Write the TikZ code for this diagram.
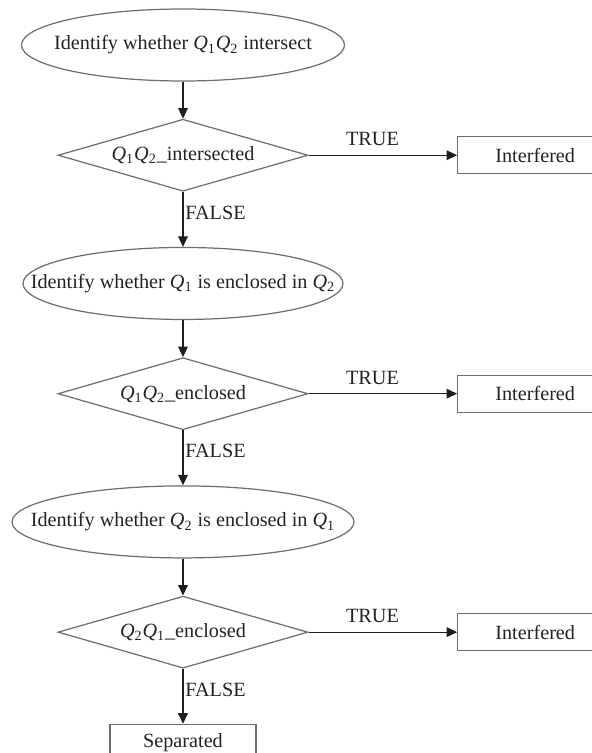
\documentclass[tikz,border=0pt]{standalone}
\usepackage{fontspec}
\setmainfont{Liberation Serif}
\usepackage{tikz}
\usetikzlibrary{positioning,shapes.geometric,arrows.meta}
\definecolor{FlowLine}{HTML}{6E6E6E}
\definecolor{FlowArrow}{HTML}{1E1E1E}
\definecolor{FlowText}{HTML}{222222}
\newcommand{\Qsub}[1]{\textit{Q}\textsubscript{#1}}

\begin{document}
\begin{tikzpicture}[node distance=0.74cm, every node/.style={font=\fontsize{11.5}{14}\selectfont, text=FlowText, align=center},
  checkbox/.style={draw=FlowLine, line width=0.7pt, ellipse, inner xsep=-30pt, inner ysep=0pt, minimum height=1.44cm},
  decidebox/.style={draw=FlowLine, line width=0.7pt, diamond, aspect=3.5, inner sep=0pt, minimum width=5cm, minimum height=1.44cm},
  resultbox/.style={draw=FlowLine, line width=0.7pt, rectangle, minimum width=3.1cm, minimum height=0.74cm},
  flow/.style={-{Triangle[length=6pt, width=5.5pt]}, line width=0.7pt, FlowArrow}]
  \useasboundingbox (0,0) rectangle (11.82,-15.06);
  \node[checkbox, minimum width=6.46cm] (intersect) at (3.66,-0.9) {Identify whether \Qsub{1}\Qsub{2} intersect};
  \node[decidebox, below=of intersect] (intersected) {\Qsub{1}\Qsub{2}\_intersected};
  \node[resultbox, right=2.97cm of intersected] (interfered1) {Interfered};
  \node[checkbox, minimum width=6.4cm, below=1.1cm of intersected] (encl12) {Identify whether \Qsub{1} is enclosed in \Qsub{2}};
  \node[decidebox, below=of encl12] (enclosed12) {\Qsub{1}\Qsub{2}\_enclosed};
  \node[resultbox, right=2.97cm of enclosed12] (interfered2) {Interfered};
  \node[checkbox, minimum width=6.84cm, below=1.1cm of enclosed12] (encl21) {Identify whether \Qsub{2} is enclosed in \Qsub{1}};
  \node[decidebox, below=of encl21] (enclosed21) {\Qsub{2}\Qsub{1}\_enclosed};
  \node[resultbox, right=2.97cm of enclosed21] (interfered3) {Interfered};
  \node[resultbox, minimum width=2.92cm, below=1.1cm of enclosed21] (separated) {Separated};
  \draw[flow] (intersect) -- (intersected);
  \draw[flow] (intersected) -- node[pos=0.43, above, inner sep=5pt]{TRUE} (interfered1);
  \draw[flow] (intersected) -- node[pos=0.38, right, inner sep=1pt]{FALSE} (encl12);
  \draw[flow] (encl12) -- (enclosed12);
  \draw[flow] (enclosed12) -- node[pos=0.43, above, inner sep=5pt]{TRUE} (interfered2);
  \draw[flow] (enclosed12) -- node[pos=0.38, right, inner sep=1pt]{FALSE} (encl21);
  \draw[flow] (encl21) -- (enclosed21);
  \draw[flow] (enclosed21) -- node[pos=0.43, above, inner sep=5pt]{TRUE} (interfered3);
  \draw[flow] (enclosed21) -- node[pos=0.38, right, inner sep=1pt]{FALSE} (separated);
\end{tikzpicture}
\end{document}
